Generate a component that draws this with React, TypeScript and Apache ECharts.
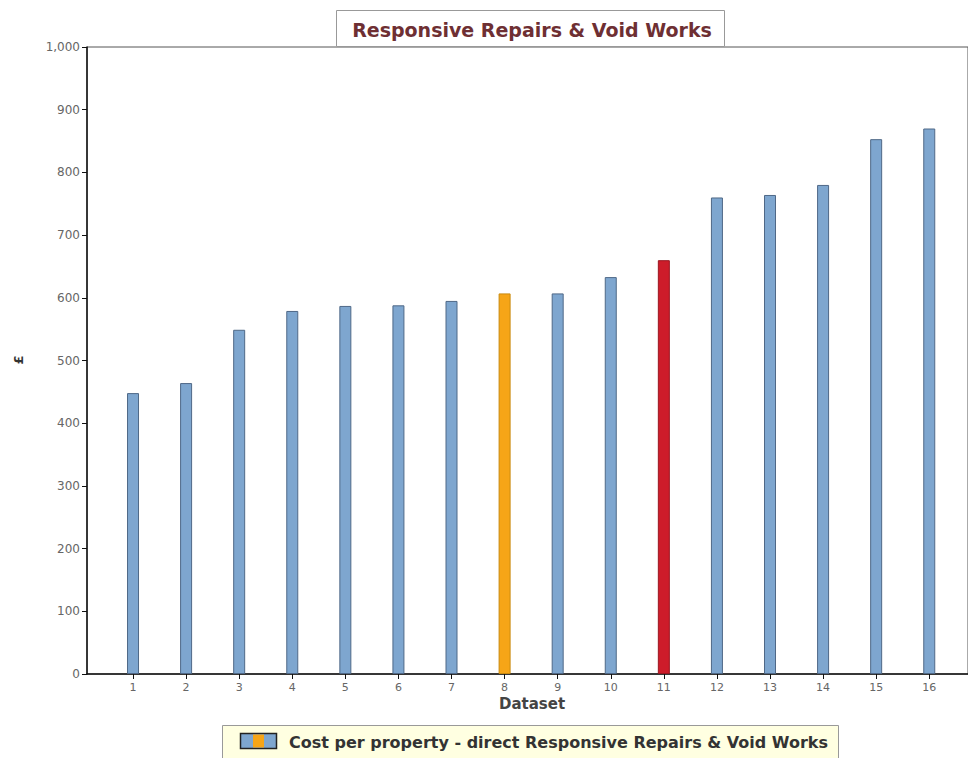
import React, { useEffect, useRef } from "react";
import * as echarts from "echarts";

// Cost per property, one bar per dataset
const datasets = [1, 2, 3, 4, 5, 6, 7, 8, 9, 10, 11, 12, 13, 14, 15, 16];
const costs = [448, 464, 549, 579, 587, 588, 595, 607, 607, 633, 660, 760, 764, 780, 853, 870];
// Highlighted datasets
const highlightOrange = 8;
const highlightRed = 11;
const yTicks = [0, 100, 200, 300, 400, 500, 600, 700, 800, 900, 1000];

const BLUE = "#7ea6cf";
const BLUE_EDGE = "#4f6887";
const ORANGE = "#f6a517";
const ORANGE_EDGE = "#c98a10";
const RED = "#cd1c2a";
const RED_EDGE = "#9a1520";

export default function App() {
  const ref = useRef<HTMLDivElement>(null);

  useEffect(() => {
    if (!ref.current) return;
    const chart = echarts.init(ref.current, null, { renderer: "svg" });

    const barData = datasets.map((d, i) => {
      let color = BLUE;
      let edge = BLUE_EDGE;
      if (d === highlightOrange) {
        color = ORANGE;
        edge = ORANGE_EDGE;
      } else if (d === highlightRed) {
        color = RED;
        edge = RED_EDGE;
      }
      return {
        value: [d, costs[i]],
        itemStyle: { color, borderColor: edge, borderWidth: 1 },
      };
    });

    chart.setOption({
      animation: false,
      backgroundColor: "#ffffff",
      grid: {
        left: 87,
        top: 47,
        right: 0,
        bottom: 84,
        show: true,
        borderColor: "#555",
        borderWidth: 1,
        backgroundColor: "transparent",
      },
      xAxis: {
        type: "value",
        min: 0.133,
        max: 16.73,
        splitLine: { show: false },
        axisLine: { show: true, onZero: false, lineStyle: { color: "#111", width: 1.5 } },
        axisTick: {
          show: true,
          customValues: datasets,
          length: 5,
          lineStyle: { color: "#111" },
        },
        axisLabel: {
          customValues: datasets,
          color: "#666",
          fontFamily: "DejaVu Sans",
          fontSize: 11,
          margin: 8,
        },
      },
      yAxis: {
        type: "value",
        min: 0,
        max: 1000,
        interval: 100,
        splitLine: { show: false },
        axisLine: { show: true, lineStyle: { color: "#111", width: 1.5 } },
        axisTick: { show: true, length: 5, lineStyle: { color: "#111" } },
        axisLabel: {
          color: "#666",
          fontFamily: "DejaVu Sans",
          fontSize: 12,
          margin: 7,
          formatter: (v: number) =>
            yTicks.includes(v) ? v.toLocaleString("en-GB") : "",
        },
      },
      series: [
        {
          type: "bar",
          name: "Cost per property - direct Responsive Repairs & Void Works",
          barWidth: 12,
          data: barData,
        },
      ],
      graphic: [
        // Title box
        {
          type: "rect",
          left: 336,
          top: 10,
          shape: { width: 388, height: 36 },
          style: { fill: "#ffffff", stroke: "#999", lineWidth: 1 },
          z: 10,
        },
        {
          type: "text",
          x: 532,
          y: 30,
          style: {
            text: "Responsive Repairs & Void Works",
            fill: "#6e2f33",
            font: "bold 19px 'DejaVu Sans'",
            align: "center",
            verticalAlign: "middle",
          },
          z: 11,
        },
        // Axis names
        {
          type: "text",
          x: 18,
          y: 360,
          rotation: Math.PI / 2,
          style: {
            text: "£",
            fill: "#333",
            font: "bold 13px 'DejaVu Sans'",
            align: "center",
            verticalAlign: "middle",
          },
        },
        {
          type: "text",
          x: 532,
          y: 704,
          style: {
            text: "Dataset",
            fill: "#444",
            font: "bold 15px 'DejaVu Sans'",
            align: "center",
            verticalAlign: "middle",
          },
        },
        // Legend box
        {
          type: "rect",
          shape: { x: 222.5, y: 725.5, width: 616, height: 40 },
          style: { fill: "#ffffe1", stroke: "#999", lineWidth: 1 },
        },
        {
          type: "rect",
          shape: { x: 240.5, y: 733.5, width: 36, height: 15 },
          style: { fill: BLUE, stroke: "#222", lineWidth: 1.5 },
        },
        {
          type: "rect",
          shape: { x: 253, y: 734.5, width: 11, height: 13 },
          style: { fill: ORANGE },
        },
        {
          type: "text",
          x: 289,
          y: 742,
          style: {
            text: "Cost per property - direct Responsive Repairs & Void Works",
            fill: "#333",
            font: "bold 16px 'DejaVu Sans'",
            align: "left",
            verticalAlign: "middle",
          },
        },
      ],
    });

    return () => chart.dispose();
  }, []);

  return (
    <div
      ref={ref}
      style={{ position: "absolute", left: 0, top: 0, width: 968, height: 758 }}
    />
  );
}
